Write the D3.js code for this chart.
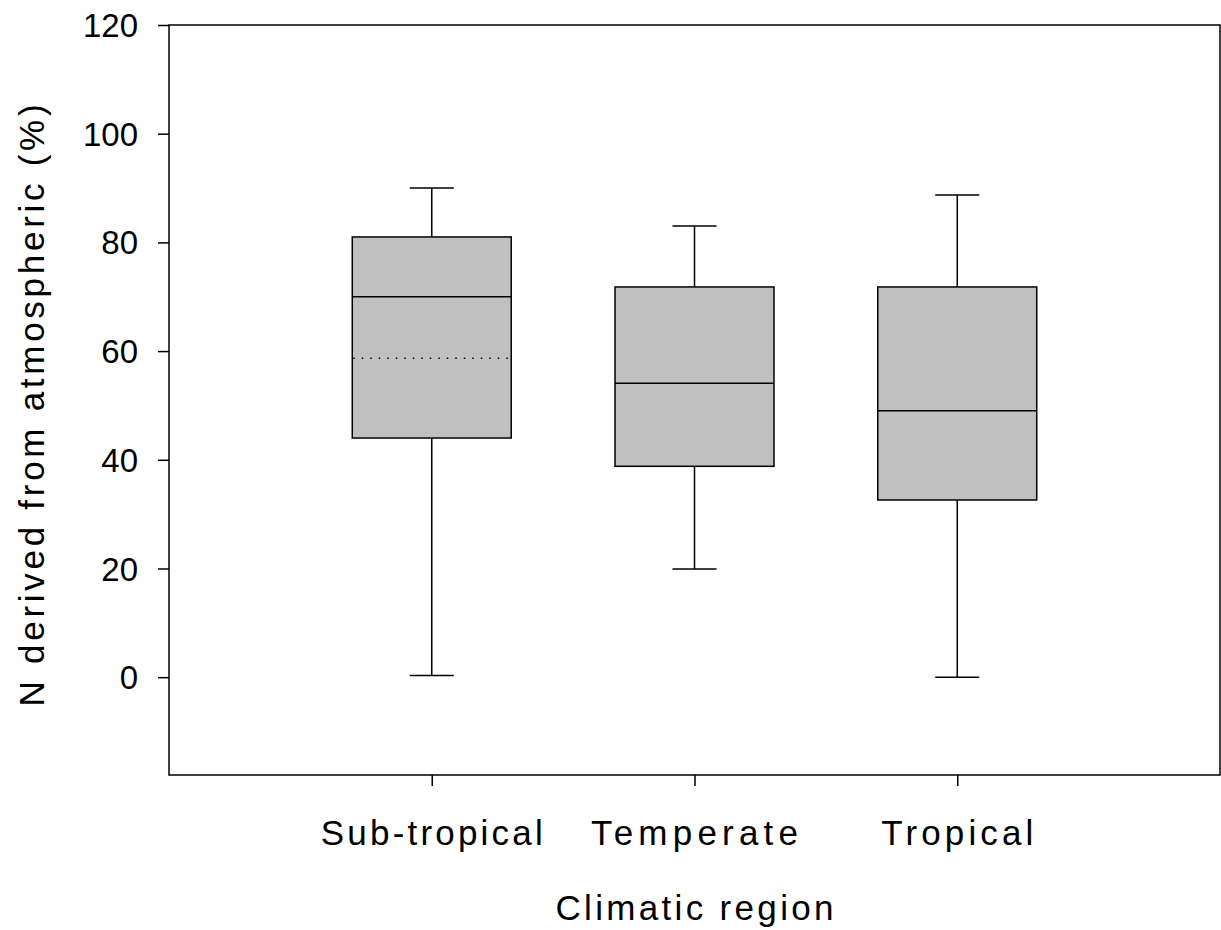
<!DOCTYPE html>
<html>
<head>
<meta charset="utf-8">
<script src="https://cdn.jsdelivr.net/npm/d3@7"></script>
<style>
  body { margin: 0; background: #fff; }
  text { font-family: "Liberation Sans", Arial, sans-serif; fill: #000; }
</style>
</head>
<body>
<div class="chart"></div>
<script>
// box plot values
const regions = ["Sub-tropical", "Temperate", "Tropical"];
const whiskLow = [0.3, 19.9, 0];
const q1 = [44, 38.8, 32.6];
const median = [70, 54.1, 49];
const q3 = [81, 71.8, 71.8];
const whiskHigh = [90, 83, 88.7];
const mean = [58.7, null, null]; // only sub-tropical shows the dotted mean line
const yTicks = [0, 20, 40, 60, 80, 100, 120];

const W = 1221, H = 930;
const margin = { top: 25, right: 1, bottom: 155, left: 169 };
const w = W - margin.left - margin.right;
const h = H - margin.top - margin.bottom;

const svg = d3.select(".chart")
  .append("svg")
  .attr("width", W)
  .attr("height", H)
  .append("g")
  .attr("transform", "translate(" + margin.left + "," + margin.top + ")");

const x = d3.scalePoint().domain(regions).range([0, w]).padding(1);
const y = d3.scaleLinear().domain([-18, 120]).range([h, 0]);
const boxW = x.step() * 0.605;

// frame
svg.append("rect")
  .attr("width", w).attr("height", h)
  .attr("fill", "none").attr("stroke", "#000").attr("stroke-width", 1.5);

// y axis
const yAxis = svg.append("g")
  .call(d3.axisLeft(y).tickValues(yTicks).tickSize(11).tickPadding(20));
yAxis.select(".domain").remove();
yAxis.selectAll("line").attr("stroke-width", 1.5);
yAxis.selectAll("text").style("font-size", "33px").attr("dy", "0.35em");

// x axis
const xAxis = svg.append("g")
  .attr("transform", "translate(0," + h + ")")
  .call(d3.axisBottom(x).tickSize(11).tickPadding(0));
xAxis.select(".domain").remove();
xAxis.selectAll("line").attr("stroke-width", 1.5);
xAxis.selectAll("text").remove();

const labelW = { "Sub-tropical": 222, "Temperate": 207, "Tropical": 152 };
svg.selectAll(".xlab")
  .data(regions)
  .enter()
  .append("text")
  .attr("class", "xlab")
  .attr("x", d => x(d))
  .attr("y", h + 70)
  .attr("text-anchor", "middle")
  .attr("textLength", d => labelW[d])
  .attr("lengthAdjust", "spacing")
  .style("font-size", "35px")
  .text(d => d);

// boxes
const g = svg.selectAll(".box")
  .data(regions)
  .enter()
  .append("g")
  .attr("class", "box");

g.append("line")
  .attr("x1", d => x(d)).attr("x2", d => x(d))
  .attr("y1", (d, i) => y(whiskHigh[i])).attr("y2", (d, i) => y(q3[i]))
  .attr("stroke", "#000").attr("stroke-width", 1.5);
g.append("line")
  .attr("x1", d => x(d)).attr("x2", d => x(d))
  .attr("y1", (d, i) => y(q1[i])).attr("y2", (d, i) => y(whiskLow[i]))
  .attr("stroke", "#000").attr("stroke-width", 1.5);

[whiskHigh, whiskLow].forEach(arr => {
  g.append("line")
    .attr("x1", d => x(d) - 22).attr("x2", d => x(d) + 22)
    .attr("y1", (d, i) => y(arr[i])).attr("y2", (d, i) => y(arr[i]))
    .attr("stroke", "#000").attr("stroke-width", 1.5);
});

g.append("rect")
  .attr("x", d => x(d) - boxW / 2)
  .attr("width", boxW)
  .attr("y", (d, i) => y(q3[i]))
  .attr("height", (d, i) => y(q1[i]) - y(q3[i]))
  .attr("fill", "#c0c0c0")
  .attr("stroke", "#000").attr("stroke-width", 1.5);

g.append("line")
  .attr("x1", d => x(d) - boxW / 2).attr("x2", d => x(d) + boxW / 2)
  .attr("y1", (d, i) => y(median[i])).attr("y2", (d, i) => y(median[i]))
  .attr("stroke", "#000").attr("stroke-width", 1.5);

g.filter((d, i) => mean[i] != null)
  .append("line")
  .attr("x1", d => x(d) - boxW / 2 + 1).attr("x2", d => x(d) + boxW / 2)
  .attr("y1", d => y(mean[regions.indexOf(d)])).attr("y2", d => y(mean[regions.indexOf(d)]))
  .attr("stroke", "#000").attr("stroke-width", 1.5)
  .attr("stroke-dasharray", "1.5,7");

// axis titles
svg.append("text")
  .attr("x", w / 2)
  .attr("y", h + 145)
  .attr("text-anchor", "middle")
  .attr("textLength", 278)
  .attr("lengthAdjust", "spacing")
  .style("font-size", "35px")
  .text("Climatic region");

svg.append("text")
  .attr("transform", "translate(" + (-125) + "," + y(50) + ") rotate(-90)")
  .attr("text-anchor", "middle")
  .attr("textLength", 602)
  .attr("lengthAdjust", "spacing")
  .style("font-size", "35px")
  .text("N derived from atmospheric (%)");
</script>
</body>
</html>
